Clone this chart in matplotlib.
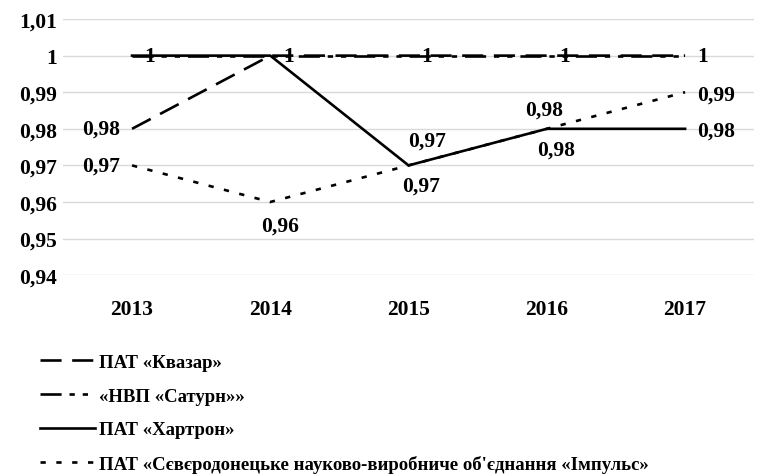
import matplotlib.pyplot as plt

plt.rcParams['font.family'] = ['Liberation Serif', 'DejaVu Serif']
plt.rcParams['font.weight'] = 'bold'

years = ['2013', '2014', '2015', '2016', '2017']
kvazar = [0.98, 1, 1, 1, 1]
saturn = [1, 1, 1, 1, 1]
hartron = [1, 1, 0.97, 0.98, 0.98]
impuls = [0.97, 0.96, 0.97, 0.98, 0.99]

names = ['ПАТ «Квазар»', '«НВП «Сатурн»»', 'ПАТ «Хартрон»',
         "ПАТ «Сєвєродонецьке науково-виробниче об'єднання «Імпульс»"]

def fmt(v):
    return f'{v:g}'.replace('.', ',')

fig = plt.figure(figsize=(7.58, 4.77), dpi=100)
ax = fig.add_axes([0.083, 0.421, 0.912, 0.537])
x = range(len(years))

lw = 1.9
l1, = ax.plot(x, kvazar, color='black', lw=lw, dashes=(8, 4), label=names[0])
l2, = ax.plot(x, saturn, color='black', lw=lw, dashes=(8, 3, 2, 3, 2, 3), label=names[1])
l3, = ax.plot(x, hartron, color='black', lw=lw, label=names[2])
l4, = ax.plot(x, impuls, color='black', lw=lw, dashes=(2, 4), label=names[3])

ax.set_xlim(-0.5, 4.5)
ax.set_ylim(0.94, 1.01)
ax.set_yticks([0.94, 0.95, 0.96, 0.97, 0.98, 0.99, 1.0, 1.01])
ax.set_yticklabels([fmt(round(v, 2)) for v in ax.get_yticks()], fontsize=15.5)
ax.set_xticks(list(x))
ax.set_xticklabels(years, fontsize=15.5)
ax.tick_params(axis='both', length=0)
ax.tick_params(axis='x', pad=17)
ax.tick_params(axis='y', pad=4)
ax.grid(axis='y', color='#d9d9d9', lw=1)
ax.set_axisbelow(True)
for s in ax.spines.values():
    s.set_visible(False)

px = 0.72  # points per pixel


def lab(i, series, dx, dy, ha='center'):
    ax.annotate(fmt(series[i]), (i, series[i]), xytext=(dx * px, dy * px),
                textcoords='offset points', ha=ha, va='center', fontsize=15.5)


# "1" labels to the right
for i in range(5):
    lab(i, saturn, 18, 0)
lab(0, kvazar, -12, 0, ha='right')
lab(0, impuls, -12, 0, ha='right')
lab(1, impuls, 10, -24)
lab(2, impuls, 13, -20)
lab(2, hartron, 19, 25)
lab(3, impuls, -3, 19)
lab(3, hartron, 9, -21)
lab(4, impuls, 12, -2, ha='left')
lab(4, hartron, 12, -2, ha='left')

fig.legend(handles=[l1, l2, l3, l4], loc='upper left', bbox_to_anchor=(0.053, 0.256),
           frameon=False, fontsize=13.5, handlelength=2.9, handletextpad=0.25,
           labelspacing=0.88, borderaxespad=0, borderpad=0)

fig.savefig('out.png', dpi=100)
